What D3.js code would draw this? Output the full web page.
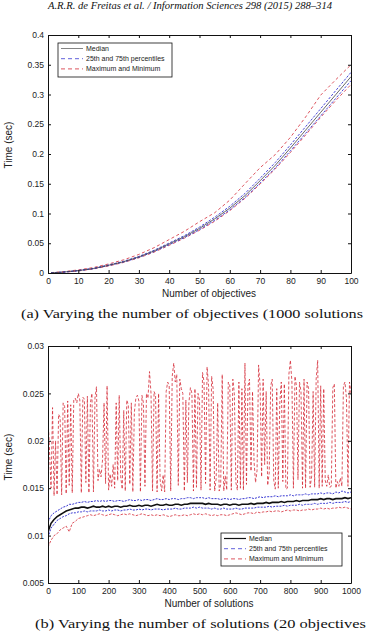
<!DOCTYPE html>
<html lang="en">
<head>
<meta charset="UTF-8">
<title>Time vs number of objectives / solutions</title>
<style>
  body { margin: 0; background: #fff; }
  svg { display: block; }
  text { font-family: 'Liberation Sans', Arial, sans-serif; fill: #222; }
  .axis text { font-size: 8.5px; }
  .axis path, .axis line { stroke: #111; }
  .title { font-size: 10px; }
  .legend text { font-size: 7px; }
  .serif { font-family: 'Liberation Serif', 'DejaVu Serif', serif; fill: #111; }
</style>
</head>
<body>
<svg id="chart" width="368" height="632"></svg>
<script src="https://d3js.org/d3.v7.min.js"></script>
<script>
const legendLabels = ['Median', '25th and 75th percentiles', 'Maximum and Minimum'];

// (a) time (sec) against number of objectives, 1000 solutions
const objectives = [1, 5, 10, 15, 20, 25, 30, 35, 40, 45, 50, 55, 60, 65, 70, 75, 80, 85, 90, 95, 100];
const objMedian = [0.0003, 0.0015, 0.004, 0.0075, 0.013, 0.019, 0.027, 0.037, 0.049, 0.061, 0.075,
                   0.091, 0.109, 0.130, 0.155, 0.181, 0.210, 0.240, 0.270, 0.300, 0.330];
const objP75 = [0.0004, 0.0017, 0.0043, 0.0079, 0.0135, 0.0197, 0.0279, 0.0381, 0.0504, 0.0627, 0.0772,
                0.0937, 0.1122, 0.1337, 0.1593, 0.1857, 0.2152, 0.2458, 0.2762, 0.3068, 0.3372];
const objP25 = [0.0002, 0.0013, 0.0037, 0.0071, 0.0125, 0.0184, 0.0262, 0.0359, 0.0476, 0.0594, 0.0729,
                0.0885, 0.1062, 0.1267, 0.1511, 0.1766, 0.2052, 0.2346, 0.2641, 0.2937, 0.3232];
const objMax = [0.0006, 0.0022, 0.0052, 0.0092, 0.0152, 0.0222, 0.0312, 0.0425, 0.0562, 0.0700, 0.0862,
                0.1012, 0.1225, 0.1500, 0.1770, 0.1990, 0.2280, 0.2620, 0.2990, 0.3250, 0.3500];
const objMin = [0.0002, 0.0011, 0.0034, 0.0068, 0.0118, 0.0178, 0.0255, 0.0350, 0.0465, 0.0585, 0.0718,
                0.0868, 0.1048, 0.1255, 0.1495, 0.1748, 0.2025, 0.2318, 0.2618, 0.2900, 0.3168];
const objXTicks = [0, 10, 20, 30, 40, 50, 60, 70, 80, 90, 100];
const objYTicks = [0, 0.05, 0.1, 0.15, 0.2, 0.25, 0.3, 0.35, 0.4];

// (b) time against number of solutions, 20 objectives (values in ms)
const solutions = d3.range(0, 1001, 10);
const solutionsMax = d3.range(0, 1001, 5);
const solMedian = [
  10.4, 11.3, 11.7, 12.0, 12.2, 12.4, 12.6, 12.7, 12.8, 12.9,
  12.9, 13.0, 13.0, 12.9, 13.0, 13.1, 13.0, 13.0, 13.1, 13.0,
  13.1, 13.0, 13.1, 13.1, 13.0, 13.1, 13.1, 13.2, 13.1, 13.1,
  13.2, 13.1, 13.2, 13.2, 13.1, 13.2, 13.3, 13.2, 13.2, 13.3,
  13.2, 13.2, 13.3, 13.3, 13.2, 13.3, 13.3, 13.4, 13.4, 13.4,
  13.4, 13.4, 13.3, 13.4, 13.3, 13.3, 13.3, 13.2, 13.3, 13.3,
  13.2, 13.3, 13.3, 13.2, 13.3, 13.3, 13.3, 13.4, 13.3, 13.4,
  13.4, 13.4, 13.5, 13.4, 13.5, 13.5, 13.5, 13.6, 13.5, 13.6,
  13.6, 13.6, 13.7, 13.6, 13.7, 13.7, 13.7, 13.8, 13.8, 13.8,
  13.9, 13.8, 13.9, 13.9, 13.8, 13.9, 13.9, 13.9, 14.0, 13.9,
  14.0];
const solP75 = [
  11.4, 12.1, 12.4, 12.6, 12.8, 13.0, 13.1, 13.3, 13.3, 13.4,
  13.5, 13.5, 13.6, 13.5, 13.6, 13.6, 13.7, 13.6, 13.7, 13.6,
  13.7, 13.7, 13.6, 13.7, 13.7, 13.6, 13.7, 13.8, 13.7, 13.7,
  13.8, 13.7, 13.8, 13.8, 13.7, 13.8, 13.9, 13.8, 13.8, 13.9,
  13.8, 13.9, 13.9, 13.8, 13.9, 13.9, 14.0, 14.0, 13.9, 14.0,
  14.0, 14.0, 13.9, 14.0, 13.9, 13.9, 13.9, 13.8, 13.9, 13.9,
  13.8, 13.9, 13.9, 13.8, 13.9, 13.9, 14.0, 14.0, 13.9, 14.0,
  14.1, 14.0, 14.1, 14.1, 14.1, 14.2, 14.1, 14.2, 14.2, 14.2,
  14.3, 14.2, 14.3, 14.3, 14.3, 14.4, 14.3, 14.4, 14.4, 14.4,
  14.5, 14.4, 14.5, 14.5, 14.4, 14.6, 14.5, 14.7, 14.6, 14.5,
  14.6];
const solP25 = [
  9.8, 10.8, 11.2, 11.6, 11.8, 12.0, 12.1, 12.3, 12.4, 12.4,
  12.5, 12.5, 12.6, 12.5, 12.6, 12.6, 12.6, 12.7, 12.6, 12.6,
  12.7, 12.6, 12.7, 12.7, 12.6, 12.7, 12.7, 12.8, 12.7, 12.7,
  12.8, 12.7, 12.8, 12.8, 12.7, 12.8, 12.8, 12.8, 12.7, 12.8,
  12.8, 12.8, 12.9, 12.8, 12.8, 12.9, 12.9, 12.9, 13.0, 12.9,
  13.0, 12.9, 12.9, 12.9, 12.8, 12.9, 12.8, 12.8, 12.9, 12.8,
  12.8, 12.8, 12.9, 12.8, 12.8, 12.9, 12.9, 12.9, 12.9, 13.0,
  13.0, 13.0, 13.0, 13.1, 13.0, 13.1, 13.1, 13.1, 13.2, 13.1,
  13.2, 13.2, 13.2, 13.3, 13.2, 13.3, 13.3, 13.3, 13.4, 13.3,
  13.4, 13.4, 13.4, 13.5, 13.4, 13.5, 13.5, 13.5, 13.6, 13.5,
  13.6];
const solMin = [
  8.8, 9.5, 10.0, 10.2, 10.6, 10.8, 11.0, 10.4, 11.3, 11.5,
  11.8, 11.9, 12.0, 12.1, 12.2, 12.1, 12.2, 12.3, 12.2, 12.1,
  12.2, 12.3, 12.2, 12.1, 12.2, 12.3, 12.2, 12.3, 12.2, 12.1,
  12.2, 12.3, 12.2, 12.1, 12.2, 12.1, 12.2, 12.1, 12.2, 12.1,
  12.0, 12.1, 12.2, 12.1, 12.1, 12.2, 12.1, 12.2, 12.3, 12.2,
  12.3, 12.2, 12.3, 12.2, 12.1, 12.2, 12.1, 12.2, 12.2, 12.1,
  12.2, 12.3, 12.4, 12.3, 12.2, 12.3, 12.4, 12.4, 12.3, 12.5,
  12.4, 12.5, 12.5, 12.6, 12.5, 12.6, 12.6, 12.5, 12.6, 12.7,
  12.6, 12.7, 12.7, 12.6, 12.7, 12.7, 12.8, 12.7, 12.8, 12.8,
  12.9, 12.8, 12.9, 12.8, 12.9, 12.9, 13.0, 12.9, 13.0, 12.9,
  12.8];
// maximum jumps around a lot, sampled every 5 solutions
const solMax = [
  22.5, 19.0, 15.0, 23.5, 14.2, 20.0, 14.3, 22.8, 22.5, 14.3,
  24.0, 23.6, 14.4, 24.2, 15.3, 23.8, 14.5, 24.3, 24.5, 24.0,
  25.0, 24.3, 14.5, 24.6, 24.4, 15.6, 24.7, 14.5, 24.0, 25.0,
  14.6, 24.5, 25.7, 15.8, 17.0, 16.2, 18.0, 24.0, 15.5, 25.8,
  14.8, 16.5, 15.2, 17.5, 15.0, 24.0, 15.8, 24.8, 16.2, 14.9,
  23.2, 14.7, 24.3, 23.8, 15.4, 24.0, 14.6, 23.0, 24.5, 24.8,
  24.2, 14.6, 24.8, 24.0, 15.2, 25.0, 24.5, 27.3, 25.0, 14.7,
  25.2, 24.8, 14.6, 25.0, 15.9, 14.7, 16.4, 14.6, 25.2, 26.2,
  25.8, 14.7, 26.8, 28.2, 26.2, 27.0, 15.3, 26.5, 25.5, 25.0,
  14.7, 24.3, 15.6, 24.0, 25.6, 25.0, 14.7, 25.5, 15.1, 25.0,
  24.3, 14.8, 27.2, 26.2, 15.5, 27.8, 25.8, 14.8, 26.8, 25.5,
  14.7, 16.0, 24.0, 14.7, 15.4, 27.0, 14.7, 16.3, 14.8, 26.2,
  25.8, 14.8, 26.5, 25.0, 15.6, 14.8, 26.2, 15.0, 25.5, 14.8,
  28.2, 15.4, 25.8, 26.5, 16.8, 25.2, 17.8, 15.6, 16.9, 28.0,
  25.8, 16.2, 26.5, 17.5, 25.2, 15.3, 16.6, 25.8, 26.5, 15.8,
  14.9, 25.5, 15.0, 24.0, 26.2, 15.7, 26.0, 14.9, 15.0, 27.0,
  28.5, 26.2, 15.0, 26.8, 25.8, 15.9, 26.2, 25.2, 15.0, 26.5,
  15.0, 26.2, 25.5, 15.1, 16.2, 25.2, 15.1, 26.5, 28.5, 15.0,
  25.8, 15.2, 25.5, 15.8, 15.2, 16.4, 15.1, 15.2, 25.6, 26.0,
  15.0, 15.7, 15.2, 16.1, 15.2, 25.8, 26.2, 24.5, 15.2, 26.2,
  25.0];
const solXTicks = [0, 100, 200, 300, 400, 500, 600, 700, 800, 900, 1000];
const solYTicks = [0.005, 0.01, 0.015, 0.02, 0.025, 0.03];

const blue = '#3838d2';
const red = '#d42a36';
const left = 48, right = 351;
const svg = d3.select('#chart');

function drawPanel(p) {
  const x = d3.scaleLinear().domain(p.xDomain).range([left, right]);
  const y = d3.scaleLinear().domain(p.yDomain).range([p.bottom, p.top]);
  const g = svg.append('g');

  g.append('clipPath').attr('id', 'clip-' + p.id)
    .append('rect')
    .attr('x', left).attr('y', p.top)
    .attr('width', right - left).attr('height', p.bottom - p.top);

  const plot = g.append('g').attr('clip-path', `url(#clip-${p.id})`);
  p.series.forEach(s => {
    const line = d3.line()
      .x((d, i) => x(s.xs[i]))
      .y(d => y(d * p.unit));
    plot.append('path')
      .datum(s.values)
      .attr('d', line)
      .attr('fill', 'none')
      .attr('stroke', s.color)
      .attr('stroke-width', s.width)
      .attr('stroke-dasharray', s.dash || null);
  });

  // box with inward ticks (matlab style)
  const fmt = d => String(+d.toFixed(3));
  g.append('g').attr('class', 'axis')
    .attr('transform', `translate(0,${p.bottom})`)
    .call(d3.axisBottom(x).tickValues(p.xTicks).tickSizeInner(-3).tickSizeOuter(0)
      .tickPadding(5).tickFormat(d3.format('d')));
  g.append('g').attr('class', 'axis')
    .attr('transform', `translate(0,${p.top})`)
    .call(d3.axisTop(x).tickValues(p.xTicks).tickSizeInner(-3).tickSizeOuter(0).tickFormat(''));
  g.append('g').attr('class', 'axis')
    .attr('transform', `translate(${left},0)`)
    .call(d3.axisLeft(y).tickValues(p.yTicks).tickSizeInner(-3).tickSizeOuter(0).tickPadding(4).tickFormat(fmt));
  g.append('g').attr('class', 'axis')
    .attr('transform', `translate(${right},0)`)
    .call(d3.axisRight(y).tickValues(p.yTicks).tickSizeInner(-3).tickSizeOuter(0).tickFormat(''));

  g.append('text').attr('class', 'title')
    .attr('x', 209).attr('y', p.bottom + 24)
    .attr('text-anchor', 'middle')
    .text(p.xLabel);
  g.append('text').attr('class', 'title')
    .attr('transform', `translate(12,${p.yLabelAt}) rotate(-90)`)
    .attr('text-anchor', 'middle')
    .text('Time (sec)');

  // legend
  const lg = g.append('g').attr('class', 'legend');
  lg.append('rect')
    .attr('x', p.legend.x).attr('y', p.legend.y)
    .attr('width', p.legend.w).attr('height', p.legend.h)
    .attr('fill', '#fff').attr('stroke', '#111').attr('stroke-width', 0.8);
  p.legend.items.forEach((it, i) => {
    const ry = p.legend.y + 5.5 + i * 10.2;
    lg.append('line')
      .attr('x1', p.legend.x + 3).attr('x2', p.legend.x + 25)
      .attr('y1', ry).attr('y2', ry)
      .attr('stroke', it.color).attr('stroke-width', it.width)
      .attr('stroke-dasharray', it.dash || null);
    lg.append('text')
      .attr('x', p.legend.x + 28).attr('y', ry)
      .attr('dy', '0.35em')
      .text(legendLabels[i]);
  });
}

drawPanel({
  id: 'a', top: 35, bottom: 273, unit: 1,
  xDomain: [0, 100], yDomain: [0, 0.4],
  xTicks: objXTicks, yTicks: objYTicks,
  xLabel: 'Number of objectives', yLabelAt: 145,
  series: [
    { xs: objectives, values: objMax, color: red, width: 0.8, dash: '3,2.5' },
    { xs: objectives, values: objMin, color: red, width: 0.8, dash: '3,2.5' },
    { xs: objectives, values: objP75, color: blue, width: 0.9, dash: '2.5,1.5' },
    { xs: objectives, values: objP25, color: blue, width: 0.9, dash: '2.5,1.5' },
    { xs: objectives, values: objMedian, color: '#444', width: 0.8 }
  ],
  legend: {
    x: 58, y: 43, w: 114, h: 34,
    items: [
      { color: '#666', width: 0.8 },
      { color: blue, width: 0.8, dash: '4,3' },
      { color: red, width: 0.8, dash: '4,3' }
    ]
  }
});

drawPanel({
  id: 'b', top: 346, bottom: 583, unit: 0.001,
  xDomain: [0, 1000], yDomain: [0.005, 0.03],
  xTicks: solXTicks, yTicks: solYTicks,
  xLabel: 'Number of solutions', yLabelAt: 457,
  series: [
    { xs: solutionsMax, values: solMax, color: red, width: 0.8, dash: '3,2' },
    { xs: solutions, values: solMin, color: red, width: 0.8, dash: '2.5,1.5' },
    { xs: solutions, values: solP75, color: blue, width: 1, dash: '2,1.2' },
    { xs: solutions, values: solP25, color: blue, width: 1, dash: '2,1.2' },
    { xs: solutions, values: solMedian, color: '#111', width: 1.6 }
  ],
  legend: {
    x: 221, y: 533, w: 121, h: 33,
    items: [
      { color: '#111', width: 1.2 },
      { color: blue, width: 0.8, dash: '4,3' },
      { color: red, width: 0.8, dash: '4,3' }
    ]
  }
});

// running header and sub-captions
svg.append('text').attr('class', 'serif')
  .attr('x', 48).attr('y', 9)
  .attr('font-style', 'italic').attr('font-size', 9.5)
  .attr('textLength', 284).attr('lengthAdjust', 'spacingAndGlyphs')
  .text('A.R.R. de Freitas et al. / Information Sciences 298 (2015) 288–314');
svg.append('text').attr('class', 'serif')
  .attr('x', 21).attr('y', 318).attr('font-size', 13)
  .attr('textLength', 342).attr('lengthAdjust', 'spacingAndGlyphs')
  .text('(a) Varying the number of objectives (1000 solutions');
svg.append('text').attr('class', 'serif')
  .attr('x', 35).attr('y', 628).attr('font-size', 13)
  .attr('textLength', 331).attr('lengthAdjust', 'spacingAndGlyphs')
  .text('(b) Varying the number of solutions (20 objectives');
</script>
</body>
</html>
